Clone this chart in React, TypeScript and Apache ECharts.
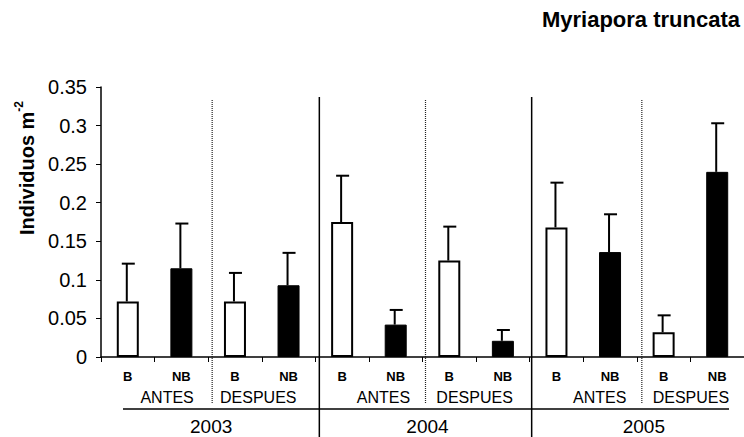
import React, { useEffect, useRef } from "react";
import * as echarts from "echarts";

const treatments = ["B", "NB", "B", "NB", "B", "NB", "B", "NB", "B", "NB", "B", "NB"];
const means = [0.072, 0.115, 0.072, 0.093, 0.175, 0.042, 0.125, 0.021, 0.168, 0.136, 0.032, 0.24];
const upperErrors = [0.121, 0.173, 0.109, 0.135, 0.235, 0.061, 0.169, 0.035, 0.226, 0.185, 0.054, 0.303];
const periods = ["ANTES", "DESPUES", "ANTES", "DESPUES", "ANTES", "DESPUES"];
const years = ["2003", "2004", "2005"];
const yTicks = { min: 0, max: 0.35, interval: 0.05 };

const FONT = "'Liberation Sans', Arial, sans-serif";
const GRID_LEFT = 101;
const GRID_TOP = 87;
const GRID_W = 649;
const GRID_H = 270;

export default function App() {
  const ref = useRef<HTMLDivElement>(null);
  useEffect(() => {
    if (!ref.current) return;
    const chart = echarts.init(ref.current, undefined, { renderer: "svg" });
    const cw = GRID_W / treatments.length;
    const bx = (k: number) => GRID_LEFT + k * cw;

    const graphics: any[] = [];
    // title
    graphics.push({
      type: "text",
      x: 740,
      y: 19,
      style: { text: "Myriapora truncata", font: `bold 22px ${FONT}`, fill: "#000", align: "right", verticalAlign: "middle" },
    });
    // y-axis name
    graphics.push({
      type: "text",
      x: 25,
      y: 168,
      rotation: Math.PI / 2,
      style: {
        text: "{a|Individuos m}{s|-2}",
        align: "center",
        verticalAlign: "middle",
        fill: "#000",
        rich: {
          a: { fontSize: 20, fontWeight: "bold", fontFamily: FONT, lineHeight: 24, fill: "#000", verticalAlign: "bottom" },
          s: { fontSize: 12, fontWeight: "bold", fontFamily: FONT, lineHeight: 14, fill: "#000", verticalAlign: "top" },
        },
      },
    });
    // dotted dividers (ANTES | DESPUES)
    [2, 6, 10].forEach((k, i) => {
      const x = bx(k) + [3, 0, 0][i];
      graphics.push({
        type: "line",
        shape: { x1: x, y1: 100, x2: x, y2: 403 },
        style: { stroke: "#222", lineWidth: 1.2, lineDash: [1, 1] },
      });
    });
    // solid year dividers
    [4, 8].forEach((k, i) => {
      const x = bx(k) + [2, -2][i];
      graphics.push({
        type: "line",
        shape: { x1: x, y1: 97, x2: x, y2: 437 },
        style: { stroke: "#000", lineWidth: 1.5 },
      });
    });
    // underline of period labels
    graphics.push({
      type: "line",
      shape: { x1: 123, y1: 409, x2: 729, y2: 409 },
      style: { stroke: "#000", lineWidth: 1.5 },
    });
    // period labels
    periods.forEach((p, i) => {
      const cx = bx(i * 2 + 1) + (p === "ANTES" ? 12 : -5);
      graphics.push({
        type: "text",
        x: cx,
        y: 397,
        style: { text: p, font: `16px ${FONT}`, fill: "#000", align: "center", verticalAlign: "middle" },
      });
    });
    // year labels
    years.forEach((yr, i) => {
      const cx = bx(i * 4 + 2) + 2;
      graphics.push({
        type: "text",
        x: cx,
        y: 426,
        style: { text: yr, font: `19px ${FONT}`, fill: "#000", align: "center", verticalAlign: "middle" },
      });
    });

    const option: any = {
      animation: false,
      grid: { left: GRID_LEFT, top: GRID_TOP, width: GRID_W, height: GRID_H, containLabel: false },
      xAxis: {
        type: "category",
        data: treatments,
        boundaryGap: true,
        axisLine: { lineStyle: { color: "#000", width: 1.5 } },
        axisTick: { show: true, length: 5, lineStyle: { color: "#000", width: 1 } },
        axisLabel: { color: "#000", fontSize: 13, fontWeight: "bold", fontFamily: FONT, margin: 13, interval: 0 },
        splitLine: { show: false },
      },
      yAxis: {
        type: "value",
        min: yTicks.min,
        max: yTicks.max,
        interval: yTicks.interval,
        axisLine: { show: true, lineStyle: { color: "#000", width: 1.5 } },
        axisTick: { show: true, length: 5, lineStyle: { color: "#000", width: 1 } },
        axisLabel: { color: "#000", fontSize: 20, fontFamily: FONT, margin: 14 },
        splitLine: { show: false },
      },
      series: [
        {
          type: "bar",
          barWidth: 22,
          data: means.map((v, i) => ({
            value: v,
            itemStyle:
              treatments[i] === "B"
                ? { color: "#fff", borderColor: "#000", borderWidth: 2 }
                : { color: "#000", borderColor: "#000", borderWidth: 1 },
          })),
          z: 2,
        },
        {
          type: "custom",
          data: means.map((v, i) => [i, v, upperErrors[i]]),
          z: 3,
          renderItem: (params: any, api: any) => {
            const i = api.value(0);
            const top = api.coord([i, api.value(1)]);
            const err = api.coord([i, api.value(2)]);
            const x = top[0] - 1;
            return {
              type: "group",
              children: [
                { type: "line", shape: { x1: x, y1: top[1], x2: x, y2: err[1] }, style: { stroke: "#000", lineWidth: 2 } },
                { type: "line", shape: { x1: x - 5, y1: err[1], x2: x + 8, y2: err[1] }, style: { stroke: "#000", lineWidth: 2 } },
              ],
            };
          },
        },
      ],
      graphic: graphics,
    };
    chart.setOption(option);
    return () => chart.dispose();
  }, []);
  return <div ref={ref} style={{ position: "fixed", left: 0, top: 0, width: 744, height: 437, background: "#fff" }} />;
}
